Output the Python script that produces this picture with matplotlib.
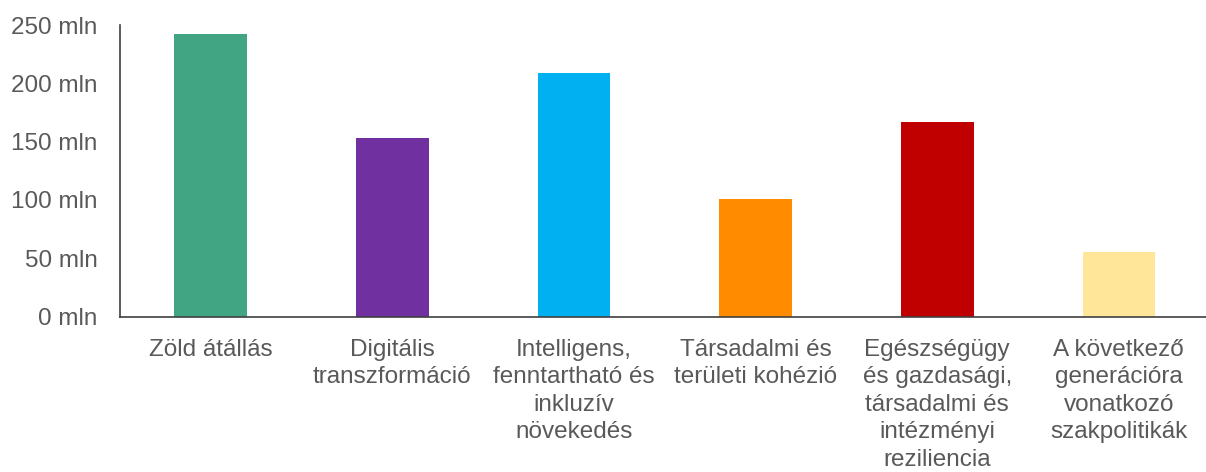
import matplotlib.pyplot as plt

plt.rcParams['font.family'] = ['Liberation Sans', 'DejaVu Sans']

# Data (million)
categories = [
    "Zöld átállás",
    "Digitális\ntranszformáció",
    "Intelligens,\nfenntartható és\ninkluzív\nnövekedés",
    "Társadalmi és\nterületi kohézió",
    "Egészségügy\nés gazdasági,\ntársadalmi és\nintézményi\nreziliencia",
    "A következő\ngenerációra\nvonatkozó\nszakpolitikák",
]
values = [242, 153, 209, 101, 167, 55]
colors = ['#41A584', '#7030A0', '#00B0F0', '#FF8C00', '#C00000', '#FFE699']
yticks = [0, 50, 100, 150, 200, 250]
ytick_labels = [f"{v} mln" for v in yticks]

text_color = '#595959'

fig = plt.figure(figsize=(12.06, 4.72), dpi=100)
ax = fig.add_axes([0.0995, 0.3294, 0.9005, 0.6176])

x = range(len(categories))
ax.bar(x, values, width=0.4, color=colors)

ax.set_xlim(-0.5, 5.48)
ax.set_ylim(0, 250)
ax.set_yticks(yticks)
ax.set_yticklabels(ytick_labels)
ax.set_xticks(list(x))
ax.set_xticklabels(categories, linespacing=1.32)

ax.tick_params(axis='y', length=0, pad=16, labelsize=17.5, labelcolor=text_color)
ax.tick_params(axis='x', length=0, pad=16, labelsize=17.5, labelcolor=text_color)

for side in ['top', 'right']:
    ax.spines[side].set_visible(False)
for side in ['left', 'bottom']:
    ax.spines[side].set_color('#404040')
    ax.spines[side].set_linewidth(1.2)

fig.savefig('out.png', dpi=100)
